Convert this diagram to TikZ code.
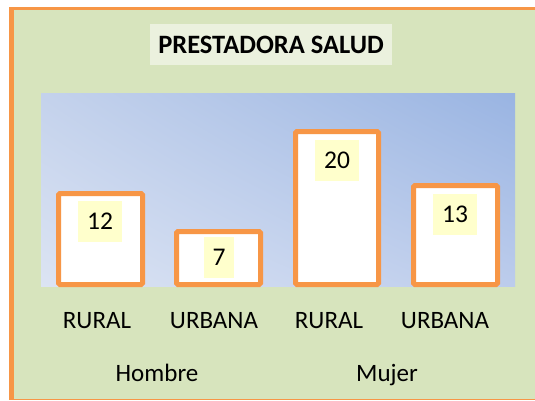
\documentclass[tikz,border=0pt]{standalone}
\usepackage{fontspec}
\setmainfont{Carlito}
\usetikzlibrary{shadings}
\definecolor{frameorange}{HTML}{F79646}
\definecolor{bggreen}{HTML}{D7E4BD}
\definecolor{titlefill}{HTML}{EBF1DE}
\definecolor{valyellow}{HTML}{FFFFCC}
\definecolor{plotUL}{RGB}{196,210,236}
\definecolor{plotUR}{RGB}{153,180,226}
\definecolor{plotLL}{RGB}{220,228,243}
\definecolor{plotLR}{RGB}{188,204,236}
\tikzset{
  barbox/.style={draw=frameorange, line width=5pt, fill=white, rounded corners=1.5pt, inner sep=0pt},
  valbox/.style={fill=valyellow, inner sep=0pt, minimum height=41pt, font=\fontsize{25.5}{30}\selectfont},
  catlabel/.style={anchor=base, inner sep=0pt, font=\fontsize{25}{29}\selectfont},
}
\begin{document}
\begin{tikzpicture}[x=1pt,y=-1pt]
\fill[white] (0,0) rectangle (535,400);
% frame
\fill[frameorange] (9,7) rectangle (535,400);
\fill[bggreen] (14,10) rectangle (535,398.5);
% title
\node[fill=titlefill, minimum width=242pt, minimum height=41pt, inner sep=0pt,
      font=\bfseries\fontsize{26.5}{30}\selectfont] (title) at (271,44.5) {PRESTADORA SALUD};
% plot area
\shade[upper left=plotUL, upper right=plotUR, lower left=plotLL, lower right=plotLR] (41,93) rectangle (515,286);
% bars
\node[barbox, minimum width=84pt, minimum height=91pt] (b1) at (100.5,239) {};
\node[barbox, minimum width=84pt, minimum height=53pt] (b2) at (218.5,258) {};
\node[barbox, minimum width=83pt, minimum height=153pt] (b3) at (337,208) {};
\node[barbox, minimum width=84pt, minimum height=99pt] (b4) at (455.5,235) {};
% values
\node[valbox, minimum width=44pt] (v1) at (100,221.5) {12};
\node[valbox, minimum width=30pt] (v2) at (219,257.5) {7};
\node[valbox, minimum width=44pt] (v3) at (337,160.5) {20};
\node[valbox, minimum width=44pt] (v4) at (455,214.5) {13};
% category labels
\node[catlabel] (c1) at (97,328) {RURAL};
\node[catlabel] (c2) at (214,328) {URBANA};
\node[catlabel] (c3) at (329,328) {RURAL};
\node[catlabel] (c4) at (445,328) {URBANA};
\node[catlabel] (g1) at (157,381) {Hombre};
\node[catlabel] (g2) at (387,381) {Mujer};
\end{tikzpicture}
\end{document}
